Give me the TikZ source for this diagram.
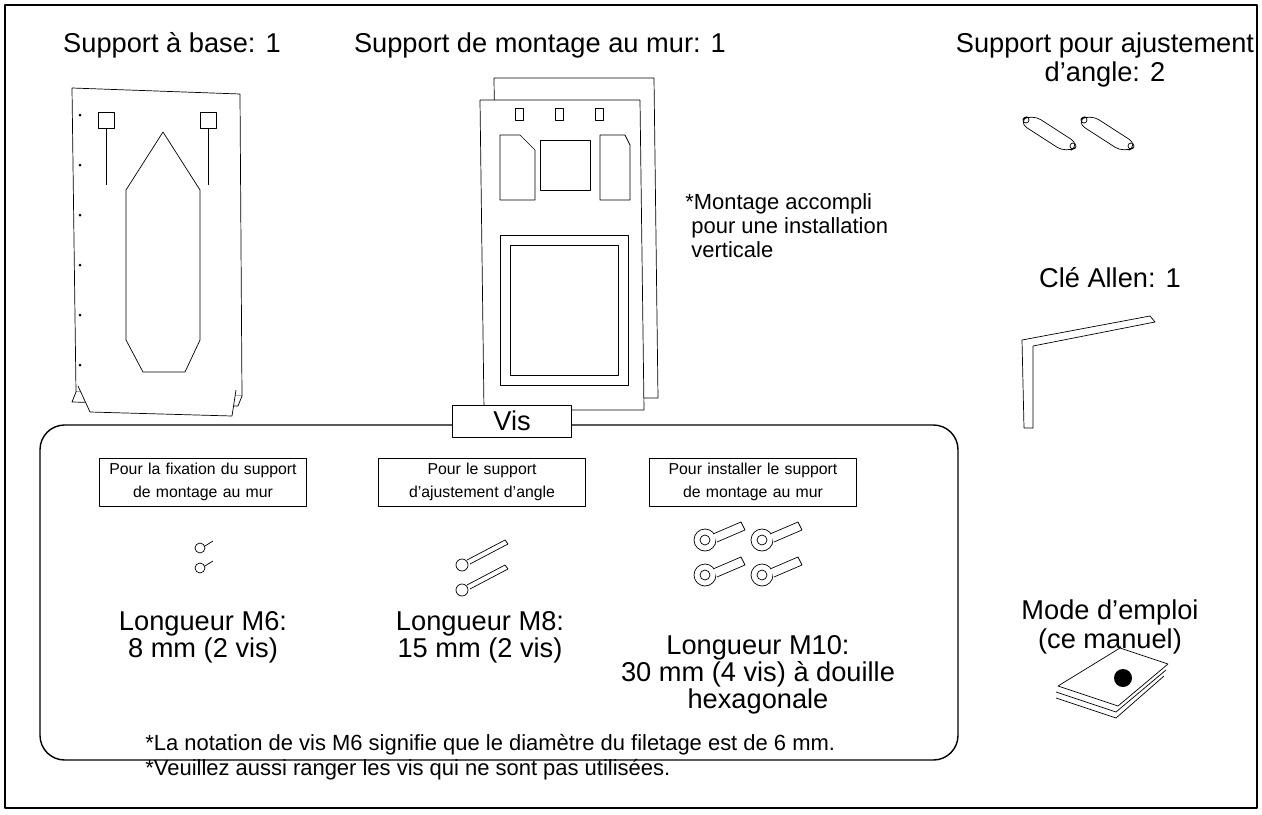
\documentclass[tikz,border=0pt]{standalone}
\usepackage{fontspec}
\setmainfont{Liberation Sans}
\begin{document}
\begin{tikzpicture}[x=0.02cm,y=-0.02cm,line join=round]
\tikzstyle{title}=[font=\fontsize{15.5}{17}\selectfont,align=center,inner sep=0pt]
\tikzstyle{length}=[font=\fontsize{15.5}{14.2}\selectfont,align=center,inner sep=0pt]
\tikzstyle{small}=[font=\fontsize{9}{13}\selectfont,align=center,draw,inner sep=3pt,text width=112pt]
\tikzstyle{note}=[font=\fontsize{12.5}{13.6}\selectfont,align=left,inner sep=0pt]
\tikzstyle{part}=[draw,thin,fill=white]
\useasboundingbox (0,0) rectangle (1262,815);
\draw [line width=0.8pt] (5,5) rectangle (1257,808);
% titles
\node [title] (tbase) at (172,45) {Support à base: 1};
\node [title] (twall) at (540,45) {Support de montage au mur: 1};
\node [title] (tangle) at (1105,60) {Support pour ajustement\\d'angle: 2};
\node [title] (tkey) at (1110,278) {Clé Allen: 1};
\node [title] (tman) at (1110,627) {Mode d'emploi\\(ce manuel)};
\node [note,anchor=north west] (nvert) at (685,193) {*Montage accompli\\\ pour une installation\\\ verticale};
% base bracket
\draw [part] (72,88) -- (240,94) -- (242,396) -- (76,392) -- cycle;
\draw [part] (76,392) -- (72,402) -- (238,406) -- (242,396);
\draw [part] (78,386) -- (90,412) -- (232,416) -- (236,390);
\draw (163,132) -- (200,190) -- (200,340) -- (185,372) -- (143,372) -- (126,340) -- (126,190) -- cycle;
\draw (98,112) rectangle (114,128) (106,128) -- (106,185);
\draw (200,112) rectangle (216,128) (208,128) -- (208,185);
\foreach \y in {115,165,215,265,315,365} \fill (80,\y) circle (1.5);
% wall bracket
\draw [part] (494,78) -- (654,78) -- (658,398) -- (498,398) -- cycle;
\draw [part] (480,100) -- (640,100) -- (644,410) -- (484,410) -- cycle;
\draw (500,135) -- (520,135) -- (535,150) -- (535,200) -- (500,200) -- cycle;
\draw (540,140) rectangle (590,190);
\draw (600,135) -- (625,135) -- (630,145) -- (630,200) -- (600,200) -- cycle;
\draw (500,235) rectangle (628,385) (510,245) rectangle (618,375);
\foreach \x in {515,555,595} \draw (\x,108) rectangle (\x+8,120);
% angle brackets
\foreach \dx in {0,58} {
\draw [part,rounded corners=6pt] (1018+\dx,122) -- (1032+\dx,114) -- (1080+\dx,145) -- (1066+\dx,153) -- cycle;
\draw (1026+\dx,120) circle (3) (1073+\dx,146) circle (3);}
% allen key
\draw [part] (1022,340) -- (1150,316) -- (1155,322) -- (1033,346) -- (1033,428) -- (1024,428) -- cycle;
% manual
\draw [part] (1058,686) -- (1120,648) -- (1168,664) -- (1118,706) -- cycle;
\draw (1056,692) -- (1116,712) -- (1166,670) (1056,698) -- (1116,718) -- (1164,676);
\fill (1123,678) circle (9);
% screws box
\draw [line width=0.8pt,rounded corners=14pt] (40,425) rectangle (958,760);
\node [draw,fill=white,font=\fontsize{15.5}{17}\selectfont,minimum width=68pt,minimum height=18pt] (vis) at (512,421) {Vis};
\node [small] (b1) at (203,482) {Pour la fixation du support\\de montage au mur};
\node [small] (b2) at (482,482) {Pour le support\\d'ajustement d'angle};
\node [small] (b3) at (753,482) {Pour installer le support\\de montage au mur};
\foreach \y in {548,568} \draw [part] (200,\y) circle (5) (205,\y-2) -- (213,\y-7);
\foreach \y in {560,585} \draw [part] (462,\y+5) circle (6) (467,\y) -- (505,\y-20) -- (508,\y-16) -- (470,\y+4);
\foreach \x/\y in {705/540,762/540,705/575,762/575} {
\draw [part] (\x,\y) circle (11) (\x,\y) circle (5);
\draw [part] (\x+8,\y-6) -- (\x+36,\y-18) -- (\x+40,\y-10) -- (\x+12,\y+2);}
\node [length] (l1) at (203,637) {Longueur M6:\\8 mm (2 vis)};
\node [length] (l2) at (480,637) {Longueur M8:\\15 mm (2 vis)};
\node [length] (l3) at (758,675) {Longueur M10:\\30 mm (4 vis) à douille\\hexagonale};
\node [note,anchor=west] (n1) at (145,745) {*La notation de vis M6 signifie que le diamètre du filetage est de 6 mm.};
\node [note,anchor=west] (n2) at (145,770) {*Veuillez aussi ranger les vis qui ne sont pas utilisées.};
\end{tikzpicture}
\end{document}
